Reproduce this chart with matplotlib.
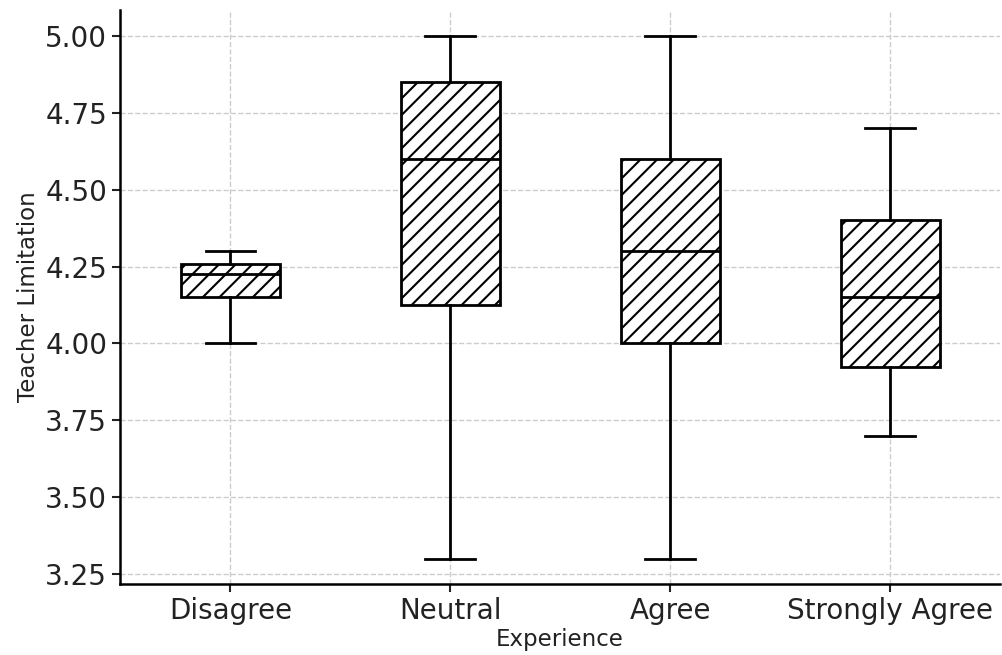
import matplotlib
matplotlib.use("Agg")
import matplotlib.pyplot as plt

categorias = ["Disagree", "Neutral", "Agree", "Strongly Agree"]
minimos = [4.00, 3.30, 3.30, 3.70]
q1 = [4.15, 4.125, 4.00, 3.925]
medianas = [4.225, 4.60, 4.30, 4.15]
q3 = [4.26, 4.85, 4.60, 4.40]
maximos = [4.30, 5.00, 5.00, 4.70]

stats = []
for i in range(len(categorias)):
    stats.append({"label": categorias[i], "whislo": minimos[i], "q1": q1[i],
                  "med": medianas[i], "q3": q3[i], "whishi": maximos[i], "fliers": []})

plt.rcParams["hatch.linewidth"] = 1.5
fig, ax = plt.subplots(figsize=(10.03, 6.55), dpi=100)
bp = ax.bxp(stats, widths=0.45, patch_artist=True, showfliers=False,
            boxprops=dict(facecolor="white", edgecolor="black", linewidth=2, hatch="//"),
            medianprops=dict(color="black", linewidth=2),
            whiskerprops=dict(color="black", linewidth=2),
            capprops=dict(color="black", linewidth=2))

ax.set_ylim(3.217, 5.085)
ax.set_yticks([3.25, 3.5, 3.75, 4.0, 4.25, 4.5, 4.75, 5.0])
ax.yaxis.set_major_formatter(matplotlib.ticker.FormatStrFormatter("%.2f"))
ax.grid(True, linestyle="--", color="#cccccc", linewidth=1)
ax.set_axisbelow(True)
ax.spines["top"].set_visible(False)
ax.spines["right"].set_visible(False)
ax.spines["left"].set_linewidth(1.8)
ax.spines["bottom"].set_linewidth(1.8)
ax.tick_params(labelsize=20, width=1.5, length=6, colors="#222222")
ax.set_xlabel("Experience", fontsize=16.5, color="#222222", labelpad=2)
ax.set_ylabel("Teacher Limitation", fontsize=16.5, color="#222222", labelpad=4)

plt.subplots_adjust(left=0.12, right=0.997, top=0.985, bottom=0.108)
plt.savefig("out.png", dpi=100)
